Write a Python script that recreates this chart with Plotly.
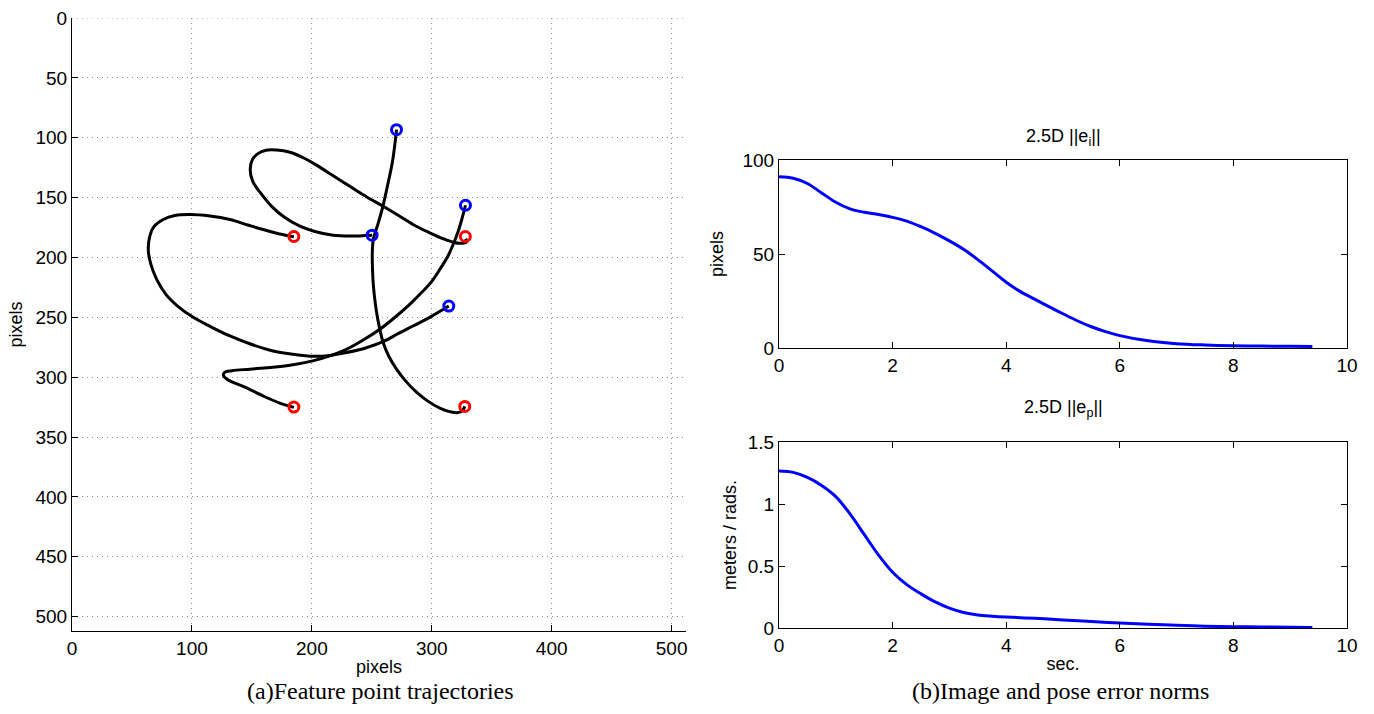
import plotly.graph_objects as go

# ---------------- Data ----------------
# Feature point trajectories (image coordinates, pixels)
traj_a_x = [270.6, 267.5, 263.3, 259.2, 255.0, 251.25, 250.4, 250.6, 251.25, 252.5, 255.0, 259.4, 264.2, 270.6, 278.3, 287.25, 296.7, 306.7, 315.0, 321.7, 325.8, 327.5]
traj_a_y = [93.3, 118.3, 139.2, 157.5, 172.5, 185.0, 197.5, 210.0, 222.5, 235.0, 251.7, 270.8, 282.5, 293.3, 303.3, 312.5, 320.0, 325.8, 328.75, 329.6, 327.5, 324.4]

traj_b_x = [328.1, 325.0, 321.7, 317.5, 313.3, 306.7, 300.0, 292.5, 282.5, 270.6, 256.7, 242.5, 228.9, 215.0, 200.8, 181.7, 165.0, 148.3, 133.3, 127.5, 126.25, 129.2, 144.2, 159.2, 173.3, 185.0]
traj_b_y = [156.4, 168.3, 179.2, 190.0, 199.2, 210.0, 220.0, 228.3, 238.3, 248.9, 260.0, 269.2, 276.7, 282.25, 286.4, 290.0, 291.9, 293.3, 294.6, 295.8, 298.3, 301.7, 308.3, 315.6, 321.7, 325.25]

traj_c_x = [250.25, 231.7, 217.75, 202.5, 190.0, 177.5, 166.7, 158.3, 150.8, 148.6, 150.4, 155.0, 161.7, 170.6, 181.7, 192.5, 203.9, 217.5, 231.7, 245.8, 259.4, 273.3, 285.8, 298.3, 309.2, 317.75, 324.2, 328.9, 328.3]
traj_c_y = [181.4, 182.1, 181.4, 178.3, 173.9, 166.7, 157.5, 147.5, 136.7, 126.7, 118.3, 113.3, 110.4, 110.25, 112.1, 116.5, 122.9, 131.5, 140.6, 149.5, 157.25, 165.6, 173.3, 179.4, 184.2, 187.25, 188.2, 187.25, 184.2]

traj_d_x = [314.2, 298.3, 284.4, 271.7, 259.4, 244.2, 228.9, 215.0, 201.1, 184.2, 167.75, 148.3, 131.7, 115.0, 101.1, 88.3, 78.3, 70.6, 65.8, 63.6, 65.0, 68.3, 76.1, 85.8, 98.3, 115.0, 131.7, 146.7, 159.4, 173.3, 185.0]
traj_d_y = [240.6, 250.0, 257.25, 263.75, 270.4, 275.8, 279.4, 281.8, 282.5, 280.8, 278.1, 272.1, 265.6, 257.5, 250.0, 240.8, 230.8, 218.3, 205.8, 193.3, 181.7, 174.2, 168.3, 165.0, 164.2, 165.4, 168.3, 172.9, 176.7, 180.4, 182.75]

start_x = [270.6, 328.1, 250.25, 314.2]
start_y = [93.3, 156.4, 181.4, 240.6]
goal_x = [185.0, 328.0, 185.0, 327.5]
goal_y = [182.5, 182.5, 325.0, 324.4]

# Image error norm (pixels) vs time (sec.)
t_ei = [0.0, 0.25, 0.5, 0.75, 1.0, 1.25, 1.5, 1.75, 2.0, 2.25, 2.5, 2.75, 3.0, 3.25, 3.5, 3.75, 4.0, 4.25, 4.5, 4.75, 5.0, 5.25, 5.5, 5.75, 6.0, 6.5, 7.0, 7.5, 8.0, 8.5, 9.0, 9.39]
ei = [91.1, 90.3, 87.5, 82.5, 77.5, 74.0, 72.2, 71.0, 69.5, 67.5, 64.5, 61.0, 57.0, 52.5, 47.0, 41.0, 35.0, 30.0, 26.0, 22.0, 18.2, 14.5, 11.3, 8.7, 6.6, 3.8, 2.3, 1.6, 1.2, 1.0, 0.9, 0.8]

# Pose error norm (meters / rads.) vs time (sec.)
t_ep = [0.0, 0.25, 0.5, 0.75, 1.0, 1.25, 1.5, 1.75, 2.0, 2.25, 2.5, 2.75, 3.0, 3.25, 3.5, 3.75, 4.0, 4.5, 5.0, 5.5, 6.0, 6.5, 7.0, 7.5, 8.0, 8.5, 9.0, 9.39]
ep = [1.266, 1.255, 1.215, 1.15, 1.06, 0.92, 0.755, 0.59, 0.45, 0.35, 0.275, 0.21, 0.16, 0.125, 0.105, 0.095, 0.088, 0.078, 0.065, 0.052, 0.040, 0.030, 0.022, 0.015, 0.011, 0.008, 0.006, 0.005]

left_xticks = [0, 100, 200, 300, 400, 500]
left_yticks = [0, 50, 100, 150, 200, 250, 300, 350, 400, 450, 500]

# ---------------- Figure ----------------
W, H = 1374, 714
def px(x):
    return x / W
def py(y):
    return 1 - y / H

SANS = "Liberation Sans, Arial, sans-serif"
SERIF = "Liberation Serif, Times New Roman, serif"
GRID = "#8a8a8a"
GDASH = "1px,4px"

fig = go.Figure()

for xs, ys in [(traj_a_x, traj_a_y), (traj_b_x, traj_b_y), (traj_c_x, traj_c_y), (traj_d_x, traj_d_y)]:
    fig.add_trace(go.Scatter(x=xs, y=ys, mode="lines", xaxis="x", yaxis="y",
                             line=dict(color="black", width=3, shape="spline", smoothing=1.0),
                             showlegend=False, hoverinfo="skip"))

fig.add_trace(go.Scatter(x=start_x, y=start_y, mode="markers", xaxis="x", yaxis="y",
                         marker=dict(symbol="circle-open", size=10, color="#0000ff",
                                     line=dict(width=3, color="#0000ff")),
                         showlegend=False))
fig.add_trace(go.Scatter(x=goal_x, y=goal_y, mode="markers", xaxis="x", yaxis="y",
                         marker=dict(symbol="circle-open", size=10, color="#ff0000",
                                     line=dict(width=3, color="#ff0000")),
                         showlegend=False))

fig.add_trace(go.Scatter(x=t_ei, y=ei, mode="lines", xaxis="x2", yaxis="y2",
                         line=dict(color="#0000ff", width=3, shape="spline", smoothing=1.0),
                         showlegend=False))
fig.add_trace(go.Scatter(x=t_ep, y=ep, mode="lines", xaxis="x3", yaxis="y3",
                         line=dict(color="#0000ff", width=3, shape="spline", smoothing=1.0),
                         showlegend=False))

tickfont = dict(family=SANS, size=19, color="black")
titlefont = dict(family=SANS, size=18, color="black")

common = dict(showline=True, linecolor="black", linewidth=1, ticks="inside", ticklen=6,
              tickcolor="black", tickfont=tickfont, zeroline=False, automargin=False)

fig.update_layout(
    width=W, height=H,
    margin=dict(l=0, r=0, t=0, b=0, pad=0),
    paper_bgcolor="white", plot_bgcolor="white",
    xaxis=dict(domain=[px(72), px(686)], range=[0, 512], tickvals=left_xticks,
               showgrid=True, gridcolor=GRID, griddash=GDASH, gridwidth=1,
               mirror=False, anchor="y",
               title=dict(text="pixels", font=titlefont, standoff=2), **common),
    yaxis=dict(domain=[py(631), py(18)], range=[512, 0], tickvals=left_yticks,
               showgrid=True, gridcolor=GRID, griddash=GDASH, gridwidth=1,
               mirror=False, anchor="x",
               title=dict(text="pixels", font=titlefont, standoff=8), **common),
    xaxis2=dict(domain=[px(779), px(1347)], range=[0, 10], tickvals=[0, 2, 4, 6, 8, 10],
                showgrid=False, mirror="ticks", anchor="y2", **common),
    yaxis2=dict(domain=[py(348), py(160)], range=[0, 100], tickvals=[0, 50, 100],
                showgrid=False, mirror="ticks", anchor="x2",
                title=dict(text="pixels", font=titlefont, standoff=14), **common),
    xaxis3=dict(domain=[px(779), px(1347)], range=[0, 10], tickvals=[0, 2, 4, 6, 8, 10],
                showgrid=False, mirror="ticks", anchor="y3",
                title=dict(text="sec.", font=titlefont, standoff=2), **common),
    yaxis3=dict(domain=[py(628), py(442)], range=[0, 1.5], tickvals=[0, 0.5, 1, 1.5],
                ticktext=["0", "0.5", "1", "1.5"],
                showgrid=False, mirror="ticks", anchor="x3",
                title=dict(text="meters / rads.", font=titlefont, standoff=6), **common),
)

# dotted grid line along the top edge (y = 0) of the trajectory plot
fig.add_shape(type="line", xref="x", yref="y", x0=left_xticks[0], x1=512,
              y0=left_yticks[0], y1=left_yticks[0],
              line=dict(color=GRID, width=1, dash=GDASH), layer="below")

annotations = [
    dict(text="2.5D ||e<sub>i</sub>||", x=px(1063), y=py(138), xref="paper", yref="paper",
         showarrow=False, font=dict(family=SANS, size=18, color="black"), xanchor="center", yanchor="middle"),
    dict(text="2.5D ||e<sub>p</sub>||", x=px(1063), y=py(408), xref="paper", yref="paper",
         showarrow=False, font=dict(family=SANS, size=18, color="black"), xanchor="center", yanchor="middle"),
    dict(text="(a)Feature point trajectories", x=px(380), y=py(691), xref="paper", yref="paper",
         showarrow=False, font=dict(family=SERIF, size=24, color="black"), xanchor="center", yanchor="middle"),
    dict(text="(b)Image and pose error norms", x=px(1060), y=py(691), xref="paper", yref="paper",
         showarrow=False, font=dict(family=SERIF, size=24, color="black"), xanchor="center", yanchor="middle"),
]
fig.update_layout(annotations=annotations)

fig.write_html("out.html", config={"displayModeBar": False},
               post_script="document.body.style.margin='0';document.body.style.overflow='hidden';")
